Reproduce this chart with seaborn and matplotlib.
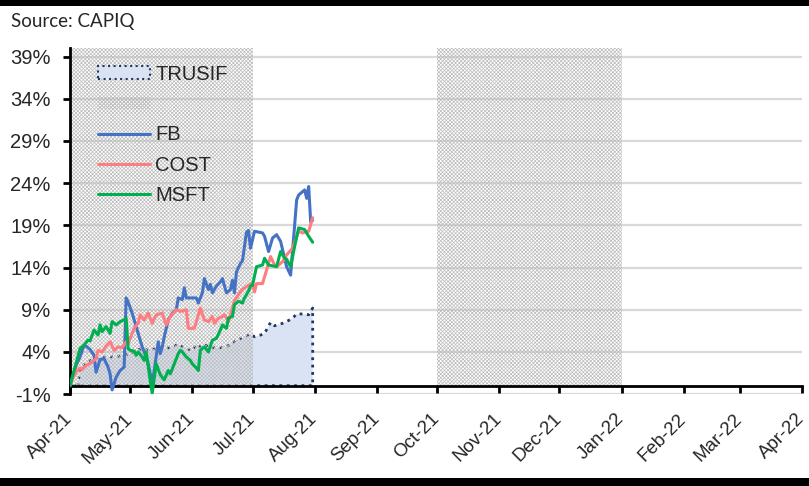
import pandas as pd
import matplotlib.pyplot as plt
import matplotlib.dates as mdates
import matplotlib.patches as mpatches
from matplotlib.lines import Line2D
from matplotlib.ticker import FuncFormatter
import seaborn as sns

# ---------------------------------------------------------
# DATA (% change since 1 Apr 2021)
# ---------------------------------------------------------
fb_dates = ['2021-04-01', '2021-04-04', '2021-04-06', '2021-04-08', '2021-04-09', '2021-04-11',
            '2021-04-13', '2021-04-14', '2021-04-16', '2021-04-18', '2021-04-20', '2021-04-21',
            '2021-04-22', '2021-04-24', '2021-04-26', '2021-04-28', '2021-04-29', '2021-04-30',
            '2021-05-02', '2021-05-04', '2021-05-07', '2021-05-09', '2021-05-10', '2021-05-12',
            '2021-05-13', '2021-05-15', '2021-05-16', '2021-05-17', '2021-05-18', '2021-05-19',
            '2021-05-20', '2021-05-22', '2021-05-24', '2021-05-25', '2021-05-27', '2021-05-28',
            '2021-05-29', '2021-05-31', '2021-06-03', '2021-06-04', '2021-06-06', '2021-06-07',
            '2021-06-09', '2021-06-10', '2021-06-11', '2021-06-13', '2021-06-15', '2021-06-16',
            '2021-06-18', '2021-06-20', '2021-06-21', '2021-06-22', '2021-06-23', '2021-06-25',
            '2021-06-26', '2021-06-27', '2021-06-28', '2021-06-29', '2021-06-30', '2021-07-02',
            '2021-07-06', '2021-07-07', '2021-07-09', '2021-07-11', '2021-07-13', '2021-07-15',
            '2021-07-18', '2021-07-20', '2021-07-23', '2021-07-24', '2021-07-27', '2021-07-28',
            '2021-07-29', '2021-07-30', '2021-07-31']
fb_values = [0, 2.4, 3.4, 4.8, 4.7, 4.3, 3.6, 1.6, 3.1, 3.2, 2.2, 1.4,
             -0.5, 1.0, 1.8, 2.2, 10.4, 9.9, 8.6, 7.0, 4.6, 3.4, 2.6, 0.3,
             1.8, 5.2, 3.8, 4.6, 5.8, 6.8, 7.8, 8.6, 9.0, 10.4, 10.2, 11.6,
             10.4, 10.4, 10.4, 9.8, 11.0, 12.7, 11.4, 12.0, 11.0, 11.8, 12.3, 12.7,
             11.0, 11.4, 12.5, 11.0, 13.5, 14.5, 14.8, 16.5, 18.2, 18.4, 16.3, 18.3,
             18.1, 17.7, 15.9, 17.5, 17.9, 17.1, 14.1, 13.1, 22.0, 22.6, 23.2, 22.2,
             23.6, 19.4, 19.6]

cost_dates = ['2021-04-01', '2021-04-02', '2021-04-04', '2021-04-06', '2021-04-07', '2021-04-09',
              '2021-04-12', '2021-04-14', '2021-04-15', '2021-04-17', '2021-04-19', '2021-04-21',
              '2021-04-23', '2021-04-25', '2021-04-27', '2021-04-29', '2021-04-30', '2021-05-03',
              '2021-05-05', '2021-05-06', '2021-05-08', '2021-05-10', '2021-05-12', '2021-05-14',
              '2021-05-17', '2021-05-19', '2021-05-21', '2021-05-24', '2021-05-26', '2021-05-29',
              '2021-05-30', '2021-06-02', '2021-06-05', '2021-06-07', '2021-06-09', '2021-06-11',
              '2021-06-12', '2021-06-14', '2021-06-16', '2021-06-17', '2021-06-19', '2021-06-21',
              '2021-06-22', '2021-06-24', '2021-06-26', '2021-06-29', '2021-07-01', '2021-07-02',
              '2021-07-03', '2021-07-06', '2021-07-08', '2021-07-10', '2021-07-12', '2021-07-13',
              '2021-07-16', '2021-07-18', '2021-07-21', '2021-07-24', '2021-07-26', '2021-07-29',
              '2021-07-31']
cost_values = [0, 0.7, 1.6, 2.1, 1.9, 2.4, 2.8, 3.2, 4.2, 4.0, 4.7, 5.2,
               4.2, 4.6, 4.5, 5.2, 5.0, 6.8, 7.4, 8.4, 7.8, 8.6, 7.4, 8.4,
               8.6, 7.2, 8.2, 9.0, 8.8, 9.0, 6.8, 6.8, 9.2, 7.8, 7.6, 8.2,
               7.4, 8.0, 8.2, 8.4, 7.6, 9.2, 10.1, 10.8, 11.4, 11.9, 12.2, 11.1,
               12.1, 12.1, 13.7, 15.3, 14.3, 14.1, 14.7, 15.5, 16.3, 18.3, 18.1, 18.3,
               19.9]

msft_dates = ['2021-04-01', '2021-04-04', '2021-04-06', '2021-04-08', '2021-04-10', '2021-04-11',
              '2021-04-13', '2021-04-15', '2021-04-16', '2021-04-17', '2021-04-19', '2021-04-21',
              '2021-04-22', '2021-04-24', '2021-04-26', '2021-04-28', '2021-04-29', '2021-04-30',
              '2021-05-01', '2021-05-03', '2021-05-04', '2021-05-05', '2021-05-07', '2021-05-08',
              '2021-05-09', '2021-05-11', '2021-05-12', '2021-05-14', '2021-05-16', '2021-05-18',
              '2021-05-20', '2021-05-21', '2021-05-23', '2021-05-25', '2021-05-26', '2021-05-27',
              '2021-05-29', '2021-05-31', '2021-06-01', '2021-06-03', '2021-06-04', '2021-06-05',
              '2021-06-07', '2021-06-09', '2021-06-11', '2021-06-13', '2021-06-15', '2021-06-16',
              '2021-06-18', '2021-06-19', '2021-06-21', '2021-06-22', '2021-06-24', '2021-06-26',
              '2021-06-27', '2021-06-29', '2021-06-30', '2021-07-01', '2021-07-03', '2021-07-06',
              '2021-07-07', '2021-07-09', '2021-07-13', '2021-07-15', '2021-07-17', '2021-07-18',
              '2021-07-20', '2021-07-22', '2021-07-24', '2021-07-27', '2021-07-29', '2021-07-31']
msft_values = [0, 2.6, 4.4, 4.8, 5.4, 5.3, 6.6, 6.0, 7.2, 6.4, 7.0, 6.2,
               7.6, 7.2, 7.6, 7.8, 8.0, 4.4, 4.2, 4.1, 3.6, 4.0, 3.4, 3.0,
               4.0, 0.6, -0.9, 2.6, 1.3, 0.7, 1.8, 1.4, 2.6, 3.8, 4.2, 4.0,
               3.4, 3.0, 2.6, 2.1, 1.8, 4.2, 4.6, 4.0, 5.4, 5.6, 6.6, 7.2,
               6.8, 8.0, 8.2, 9.6, 10.0, 9.8, 10.4, 11.2, 11.8, 11.9, 14.1, 14.3,
               15.1, 14.3, 14.1, 15.9, 15.1, 15.0, 14.1, 16.5, 18.7, 18.5, 17.7, 17.0]

trusif_dates = ['2021-04-01', '2021-04-05', '2021-04-06', '2021-04-07', '2021-04-10', '2021-04-13',
                '2021-04-16', '2021-04-21', '2021-04-25', '2021-04-28', '2021-05-01', '2021-05-04',
                '2021-05-07', '2021-05-10', '2021-05-14', '2021-05-18', '2021-05-22', '2021-05-25',
                '2021-05-29', '2021-06-01', '2021-06-03', '2021-06-05', '2021-06-08', '2021-06-12',
                '2021-06-15', '2021-06-18', '2021-06-21', '2021-06-24', '2021-06-27', '2021-06-30',
                '2021-07-02', '2021-07-05', '2021-07-07', '2021-07-10', '2021-07-12', '2021-07-15',
                '2021-07-18', '2021-07-21', '2021-07-23', '2021-07-26', '2021-07-29', '2021-07-31']
trusif_values = [0, 0, 2.0, 2.3, 2.8, 3.2, 3.4, 3.4, 3.5, 3.6, 3.8, 4.2,
                 4.4, 4.2, 4.4, 4.4, 4.6, 4.9, 4.4, 4.2, 4.9, 4.6, 4.8, 4.5,
                 4.5, 4.6, 5.1, 5.5, 5.8, 6.1, 5.8, 6.0, 6.2, 7.5, 7.1, 7.3,
                 7.6, 8.0, 8.5, 8.5, 8.4, 9.2]

shade_starts = ['2021-04-01', '2021-10-01']
shade_ends = ['2021-07-01', '2022-01-01']

tickers = ['FB', 'COST', 'MSFT']
colors = {'FB': '#4472C4', 'COST': '#FF7C80', 'MSFT': '#00B050'}
trusif_fill = '#DAE3F3'
trusif_edge = '#1F3864'
hatch_color = '#BCBCBC'

# ---------------------------------------------------------
# FRAME THE DATA
# ---------------------------------------------------------
stocks = pd.concat([
    pd.DataFrame({'date': pd.to_datetime(fb_dates), 'pct': fb_values, 'ticker': 'FB'}),
    pd.DataFrame({'date': pd.to_datetime(cost_dates), 'pct': cost_values, 'ticker': 'COST'}),
    pd.DataFrame({'date': pd.to_datetime(msft_dates), 'pct': msft_values, 'ticker': 'MSFT'}),
], ignore_index=True)
trusif = pd.DataFrame({'date': pd.to_datetime(trusif_dates), 'pct': trusif_values})

# ---------------------------------------------------------
# FIGURE
# ---------------------------------------------------------
sns.set_theme(style="white")
plt.rcParams['font.family'] = ['Liberation Sans', 'DejaVu Sans']
plt.rcParams['hatch.linewidth'] = 0.5

fig = plt.figure(figsize=(8.09, 4.86), dpi=100)
ax = fig.add_axes([0.0865, 0.189, 0.905, 0.712])

# grid lines first
yticks = list(range(-1, 40, 5))
for yv in yticks:
    ax.axhline(yv, color='#D9D9D9', linewidth=1.6, zorder=0)

# TRUSIF area
ax.fill_between(trusif['date'], trusif['pct'], 0, facecolor=trusif_fill,
                edgecolor=trusif_edge, linestyle=':', linewidth=2, zorder=1)

# hatched periods
for s, e in zip(shade_starts, shade_ends):
    ax.fill_between(pd.to_datetime([s, e]), 0, 40, facecolor='none', edgecolor=hatch_color,
                    hatch='xxxxxxxxx', linewidth=0, zorder=2)

sns.lineplot(data=stocks, x='date', y='pct', hue='ticker', hue_order=tickers,
             palette=colors, linewidth=2.2, legend=False, ax=ax, zorder=3)

ax.set_xlim(pd.Timestamp('2021-04-01'), pd.Timestamp('2022-04-01'))
ax.set_ylim(-1, 40)
ax.set_yticks(yticks)
ax.yaxis.set_major_formatter(FuncFormatter(lambda v, p: f'{v:.0f}%'))
ax.xaxis.set_major_locator(mdates.MonthLocator())
ax.xaxis.set_major_formatter(mdates.DateFormatter('%b-%y'))
ax.set_xlabel('')
ax.set_ylabel('')

for side in ['top', 'right']:
    ax.spines[side].set_visible(False)
ax.spines['left'].set_linewidth(2)
ax.spines['left'].set_color('black')
ax.spines['bottom'].set_linewidth(2)
ax.spines['bottom'].set_color('black')
ax.spines['bottom'].set_position(('data', 0))

ax.tick_params(axis='y', left=True, length=5, width=2, color='black', labelsize=14.5, pad=9)
ax.tick_params(axis='x', bottom=True, length=5, width=2, color='black', labelsize=13.5, pad=17)
for lbl in ax.get_xticklabels():
    lbl.set_rotation(45)
    lbl.set_ha('right')
    lbl.set_va('center')
    lbl.set_rotation_mode('anchor')

# legend
handles = [
    mpatches.Patch(facecolor=trusif_fill, edgecolor=trusif_edge, linestyle=':', linewidth=1.5),
    mpatches.Patch(facecolor='none', edgecolor=hatch_color, hatch='xxxxxxxxx', linewidth=0),
    Line2D([], [], color=colors['FB'], linewidth=2.2),
    Line2D([], [], color=colors['COST'], linewidth=2.2),
    Line2D([], [], color=colors['MSFT'], linewidth=2.2),
]
labels = ['TRUSIF', '', 'FB', 'COST', 'MSFT']
ax.legend(handles, labels, loc='upper left', bbox_to_anchor=(0.038, 0.952), frameon=False,
          fontsize=14.5, handlelength=2.6, handleheight=0.6, handletextpad=0.25,
          labelspacing=0.56, borderpad=0, borderaxespad=0)

# source note and frame bars
fig.text(0.013, 1 - 21 / 486, 'Source: CAPIQ', va='center', ha='left',
         fontsize=13.5, family=['Lato', 'DejaVu Sans'])
fig.patches.append(mpatches.Rectangle((0, 1 - 6 / 486), 1, 6 / 486, transform=fig.transFigure,
                                      facecolor='black', edgecolor='none'))
fig.patches.append(mpatches.Rectangle((0, 0), 1, 8 / 486, transform=fig.transFigure,
                                      facecolor='black', edgecolor='none'))

plt.savefig('out.png', dpi=100)
plt.close()
